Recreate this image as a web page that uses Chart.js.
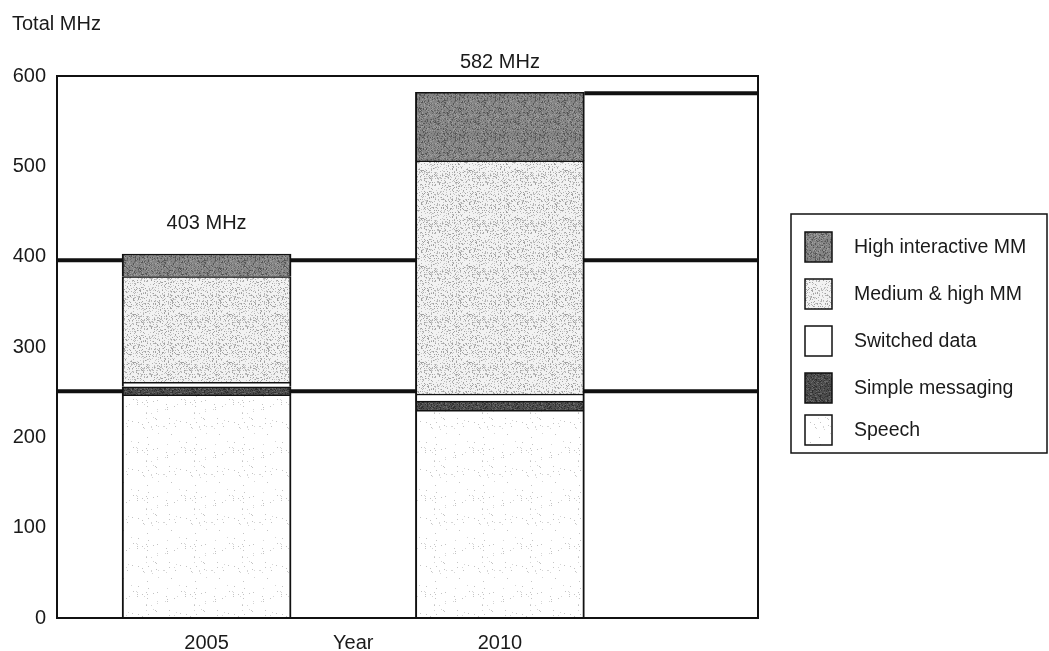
<!DOCTYPE html>
<html>
<head>
<meta charset="utf-8">
<script src="https://cdn.jsdelivr.net/npm/chart.js@4/dist/chart.umd.min.js"></script>
<style>
  html, body { margin: 0; padding: 0; background: #ffffff; }
  #wrap { width: 1049px; height: 651px; }
</style>
</head>
<body>
<div id="wrap"><canvas id="c" width="1049" height="651"></canvas></div>
<script>
// ---- data (MHz) ----
const tickLabels = ['2005', 'Year', '2010'];
const years = ['2005', '2010'];
const speech = [247, 230];
const simpleMessaging = [9, 10];
const switchedData = [5, 8];
const mediumHighMM = [117, 258];
const highInteractiveMM = [25, 76];
const fullWidthLevels = [251, 396];   // lines across the whole plot
const upperLevels = [582];            // line from the 2010 column to the right edge
const yTickValues = [0, 100, 200, 300, 400, 500, 600];

const FONT = 'Liberation Sans, Arial, Helvetica, sans-serif';
const INK = '#1a1a1a';

// deterministic speckle texture for the printed-look fills
function speckle(base, dots, density, size, seed) {
  const cv = document.createElement('canvas');
  cv.width = size; cv.height = size;
  const g = cv.getContext('2d');
  g.fillStyle = base;
  g.fillRect(0, 0, size, size);
  let k = seed;
  const next = () => { const v = Math.sin(k++ * 12.9898 + 78.233) * 43758.5453; return v - Math.floor(v); };
  for (let y = 0; y < size; y++) {
    for (let x = 0; x < size; x++) {
      if (next() < density) {
        g.fillStyle = dots[Math.floor(next() * dots.length)];
        g.fillRect(x, y, 1, 1);
      }
    }
  }
  return g.createPattern(cv, 'repeat');
}

const ctx0 = document.getElementById('c').getContext('2d');
const fills = {
  speech: speckle('#ffffff', ['#c4c4c4', '#d6d6d6'], 0.025, 48, 11),
  simple: speckle('#4e4e4e', ['#2e2e2e', '#6a6a6a', '#3a3a3a'], 0.45, 32, 23),
  switched: '#ffffff',
  medium: speckle('#f2f2f2', ['#a0a0a0', '#b4b4b4', '#c8c8c8'], 0.25, 48, 37),
  high: speckle('#858585', ['#555555', '#6a6a6a', '#9e9e9e'], 0.4, 40, 51)
};

const xIndex = tickLabels.reduce((m, l, i) => (m[l] = i, m), {});
const pts = arr => years.map((yr, i) => ({ x: xIndex[yr], y: arr[i] }));

const barStyle = {
  borderColor: '#111111',
  borderWidth: { top: 1.5, left: 2, right: 2, bottom: 0 },
  borderSkipped: 'start',
  barThickness: 169
};

const datasets = [
  { label: 'Speech', data: pts(speech), backgroundColor: fills.speech, ...barStyle },
  { label: 'Simple messaging', data: pts(simpleMessaging), backgroundColor: fills.simple, ...barStyle },
  { label: 'Switched data', data: pts(switchedData), backgroundColor: fills.switched, ...barStyle },
  { label: 'Medium & high MM', data: pts(mediumHighMM), backgroundColor: fills.medium, ...barStyle },
  { label: 'High interactive MM', data: pts(highInteractiveMM), backgroundColor: fills.high, ...barStyle }
];

// horizontal level lines, drawn under the columns
const levelLines = {
  id: 'levelLines',
  beforeDatasetsDraw(chart) {
    const { ctx, chartArea: a, scales: { y } } = chart;
    ctx.save();
    ctx.strokeStyle = '#111111';
    ctx.lineWidth = 4;
    fullWidthLevels.forEach(v => {
      const py = y.getPixelForValue(v);
      ctx.beginPath(); ctx.moveTo(a.left, py); ctx.lineTo(a.right, py); ctx.stroke();
    });
    const lastMeta = chart.getDatasetMeta(datasets.length - 1);
    const bar = lastMeta.data[years.indexOf('2010')];
    upperLevels.forEach(v => {
      const py = y.getPixelForValue(v);
      const x0 = bar.x + bar.width / 2;
      ctx.beginPath(); ctx.moveTo(x0, py + 1); ctx.lineTo(a.right, py + 1); ctx.stroke();
    });
    ctx.restore();
  }
};

// plot frame, total labels, axis caption and legend box
const decorations = {
  id: 'decorations',
  afterDatasetsDraw(chart) {
    const { ctx, chartArea: a } = chart;
    ctx.save();
    ctx.strokeStyle = '#111111';
    ctx.lineWidth = 2;
    ctx.strokeRect(a.left, a.top, a.right - a.left, a.bottom - a.top);

    ctx.fillStyle = INK;
    ctx.font = '20px ' + FONT;
    ctx.textAlign = 'center';
    ctx.textBaseline = 'middle';
    const topMeta = chart.getDatasetMeta(datasets.length - 1);
    years.forEach((yr, i) => {
      const total = speech[i] + simpleMessaging[i] + switchedData[i] + mediumHighMM[i] + highInteractiveMM[i];
      const el = topMeta.data[i];
      ctx.fillText(total + ' MHz', el.x, el.y - 30);
    });
    ctx.restore();
  },
  afterDraw(chart) {
    const { ctx } = chart;
    ctx.save();
    ctx.fillStyle = INK;
    ctx.font = '20px ' + FONT;
    ctx.textAlign = 'left';
    ctx.textBaseline = 'middle';
    ctx.fillText('Total MHz', 12, 24);

    // legend
    ctx.font = '19.5px ' + FONT;
    ctx.strokeStyle = '#111111';
    ctx.lineWidth = 1.5;
    ctx.strokeRect(791, 214, 256, 239);
    const order = datasets.slice().reverse();
    const centers = [247, 294, 341, 388, 430];
    order.forEach((ds, i) => {
      const cy = centers[i];
      ctx.fillStyle = ds.backgroundColor;
      ctx.fillRect(805, cy - 15, 27, 30);
      ctx.strokeRect(805, cy - 15, 27, 30);
      ctx.fillStyle = INK;
      ctx.fillText(ds.label, 854, cy + 1);
    });
    ctx.restore();
  }
};

new Chart(ctx0, {
  type: 'bar',
  data: { datasets },
  options: {
    responsive: false,
    animation: false,
    devicePixelRatio: 1,
    layout: { padding: { top: 76, right: 291, left: 0, bottom: 0 } },
    plugins: { legend: { display: false }, tooltip: { enabled: false } },
    scales: {
      x: {
        type: 'linear',
        stacked: true,
        offset: false,
        bounds: 'data',
        min: -1.02,
        max: 3.76,
        grid: { display: false, drawTicks: false, offset: false },
        border: { display: false },
        afterBuildTicks: s => { s.ticks = tickLabels.map((_, i) => ({ value: i })); },
        afterFit: s => { s.height = 33; },
        ticks: {
          padding: 13,
          color: INK,
          font: { family: FONT, size: 20 },
          maxRotation: 0,
          autoSkip: false,
          callback: v => tickLabels[v]
        }
      },
      y: {
        stacked: true,
        min: 0,
        max: 600,
        grid: { display: false, drawTicks: false },
        border: { display: false },
        afterBuildTicks: s => { s.ticks = yTickValues.map(v => ({ value: v })); },
        afterFit: s => { s.width = 57; },
        ticks: {
          padding: 11,
          color: INK,
          font: { family: FONT, size: 20 },
          callback: v => String(v)
        }
      }
    }
  },
  plugins: [levelLines, decorations]
});
</script>
</body>
</html>
